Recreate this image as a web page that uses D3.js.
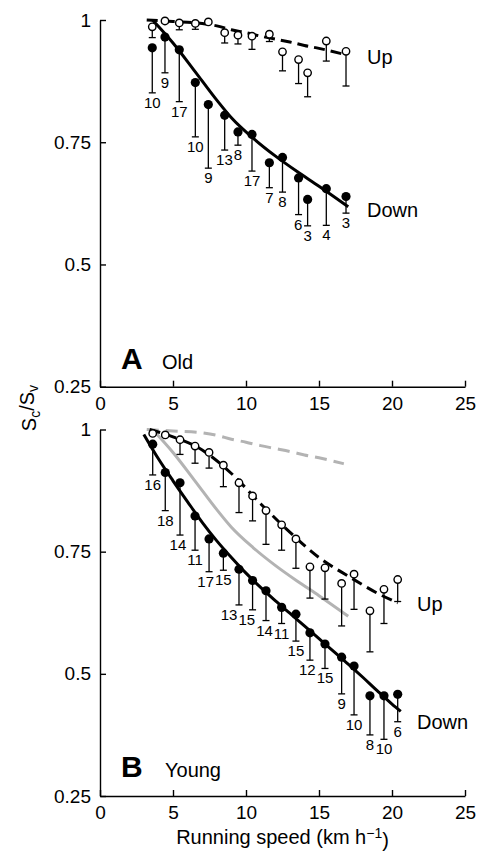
<!DOCTYPE html>
<html>
<head>
<meta charset="utf-8">
<script src="https://cdn.jsdelivr.net/npm/d3@7"></script>
<style>
body { margin: 0; background: #fff; }
svg { display: block; font-family: "Liberation Sans", Arial, Helvetica, sans-serif; }
</style>
</head>
<body>
<div id="chart"></div>
<script>
// axis ticks
var xTicks = [0, 5, 10, 15, 20, 25]
var yTicks = [0.25, 0.5, 0.75, 1]
var yTickLabels = ["0.25", "0.5", "0.75", "1"]

// panel A, old
var oldSpeed = [3.58, 4.45, 5.43, 6.53, 7.42, 8.54, 9.45, 10.41, 11.6, 12.5, 13.6, 14.22, 15.5, 16.85]
var oldUp = [0.986, 0.998, 0.994, 0.993, 0.996, 0.974, 0.969, 0.967, 0.971, 0.935, 0.919, 0.892, 0.957, 0.936]
var oldUpSd = [0.022, 0.004, 0.014, 0.012, 0.003, 0.021, 0.018, 0.027, 0.015, 0.039, 0.049, 0.049, 0.041, 0.071]
var oldDown = [0.943, 0.965, 0.939, 0.872, 0.827, 0.805, 0.771, 0.766, 0.708, 0.719, 0.677, 0.633, 0.655, 0.639]
var oldDownSd = [0.092, 0.073, 0.106, 0.111, 0.130, 0.071, 0.027, 0.075, 0.051, 0.071, 0.075, 0.054, 0.075, 0.034]
var oldDownN = [10, 9, 17, 10, 9, 13, 8, 17, 7, 8, 6, 3, 4, 3]
// fitted curves, old
var oldUpFitSpeed = [3.2, 5, 7, 8, 9, 10, 11, 12, 13, 14, 15, 16.7]
var oldUpFit = [1.0, 0.997, 0.993, 0.988, 0.98, 0.974, 0.967, 0.961, 0.955, 0.948, 0.942, 0.93]
var oldDownFitSpeed = [3.6, 5, 6.5, 8, 9, 10.5, 12, 13.5, 15, 17]
var oldDownFit = [1.0, 0.953, 0.895, 0.836, 0.80, 0.758, 0.722, 0.69, 0.66, 0.618]

// panel B, young
var youngSpeed = [3.61, 4.47, 5.48, 6.51, 7.47, 8.45, 9.52, 10.45, 11.37, 12.44, 13.42, 14.38, 15.41, 16.55, 17.4, 18.49, 19.45, 20.39]
var youngUp = [0.992, 0.989, 0.979, 0.966, 0.953, 0.927, 0.891, 0.864, 0.834, 0.805, 0.776, 0.719, 0.717, 0.685, 0.704, 0.629, 0.673, 0.693]
var youngUpSd = [0, 0, 0.030, 0.035, 0.032, 0.044, 0.061, 0.051, 0.069, 0.052, 0.060, 0.064, 0.064, 0.087, 0.072, 0.084, 0.070, 0.045]
var youngDown = [0.970, 0.912, 0.891, 0.823, 0.776, 0.747, 0.714, 0.691, 0.670, 0.636, 0.622, 0.584, 0.561, 0.534, 0.516, 0.455, 0.455, 0.458]
var youngDownSd = [0.063, 0.078, 0.107, 0.070, 0.067, 0.035, 0.073, 0.060, 0.061, 0.033, 0.055, 0.056, 0.050, 0.075, 0.100, 0.080, 0.089, 0.056]
var youngDownN = [16, 18, 14, 11, 17, 15, 13, 15, 14, 11, 15, 12, 15, 9, 10, 8, 10, 6]
// fitted curves, young
var youngUpFitSpeed = [3.4, 5, 7, 9, 11, 13, 15, 17, 19, 20.4]
var youngUpFit = [1.0, 0.985, 0.958, 0.91, 0.848, 0.79, 0.738, 0.70, 0.665, 0.645]
var youngDownFitSpeed = [3.0, 4, 5, 6, 7, 8, 9, 10, 11, 12, 13, 14, 15, 16, 17, 18, 19, 20, 20.6]
var youngDownFit = [0.99, 0.94, 0.895, 0.852, 0.81, 0.772, 0.738, 0.706, 0.677, 0.65, 0.624, 0.598, 0.572, 0.546, 0.52, 0.493, 0.465, 0.438, 0.423]

var width = 481,
    height = 854

var x = d3.scaleLinear().domain([0, 25]).range([100, 465])
var yA = d3.scaleLinear().domain([0.25, 1]).range([386.7, 20])
var yB = d3.scaleLinear().domain([0.25, 1]).range([796, 429.5])

var svg = d3.select("#chart")
            .append("svg")
            .attr("width", width)
            .attr("height", height)

function drawAxes(y) {
    var gx = svg.append("g")
        .attr("transform", "translate(0," + y.range()[0] + ")")
        .call(d3.axisBottom(x).tickValues(xTicks).tickSizeInner(-6).tickSizeOuter(0).tickPadding(10))
    var gy = svg.append("g")
        .attr("transform", "translate(" + x(0) + ",0)")
        .call(d3.axisLeft(y).tickValues(yTicks).tickFormat(function(d, i) { return yTickLabels[i] })
              .tickSizeInner(-6).tickSizeOuter(0).tickPadding(9))
    ;[gx, gy].forEach(function(g) {
        g.attr("font-size", 19).attr("font-family", null)
        g.selectAll("text").attr("fill", "#000")
        g.select(".domain").attr("stroke-width", 1.4)
        g.selectAll(".tick line").attr("stroke-width", 1.4)
    })
}

function fitLine(y, xs, ys, color, dash) {
    var line = d3.line()
                 .x(function(d) { return x(d[0]) })
                 .y(function(d) { return y(d[1]) })
                 .curve(d3.curveMonotoneX)
    svg.append("path")
       .datum(d3.zip(xs, ys))
       .attr("d", line)
       .attr("fill", "none")
       .attr("stroke", color)
       .attr("stroke-width", 3)
       .attr("stroke-dasharray", dash)
}

function bars(y, speed, mean, sd) {
    var data = d3.zip(speed, mean, sd).filter(function(d) { return d[2] > 0 })
    var g = svg.append("g").attr("stroke", "#000").attr("stroke-width", 1.3)
    g.selectAll("line.bar").data(data).enter().append("line")
     .attr("x1", function(d) { return x(d[0]) })
     .attr("x2", function(d) { return x(d[0]) })
     .attr("y1", function(d) { return y(d[1]) })
     .attr("y2", function(d) { return y(d[1] - d[2]) })
    g.selectAll("line.cap").data(data).enter().append("line")
     .attr("x1", function(d) { return x(d[0]) - 3.5 })
     .attr("x2", function(d) { return x(d[0]) + 3.5 })
     .attr("y1", function(d) { return y(d[1] - d[2]) })
     .attr("y2", function(d) { return y(d[1] - d[2]) })
}

function dots(y, speed, mean, open) {
    svg.append("g").selectAll("circle")
       .data(d3.zip(speed, mean))
       .enter().append("circle")
       .attr("cx", function(d) { return x(d[0]) })
       .attr("cy", function(d) { return y(d[1]) })
       .attr("r", open ? 3.7 : 4.6)
       .attr("fill", open ? "#fff" : "#000")
       .attr("stroke", "#000")
       .attr("stroke-width", open ? 1.4 : 0)
}

function counts(y, speed, mean, sd, n) {
    var labels = svg.append("g").selectAll("text")
       .data(d3.zip(speed, mean, sd, n))
       .enter().append("text")
       .attr("x", function(d) { return x(d[0]) })
       .attr("y", function(d) { return y(d[1] - d[2]) + 15 })
       .attr("text-anchor", "middle")
       .style("font-size", "15px")
       .text(function(d) { return d[3] })
    // push a label left when it runs into the next one
    var nodes = labels.nodes()
    for (var i = nodes.length - 2; i >= 0; i--) {
        var a = nodes[i].getBBox(), b = nodes[i + 1].getBBox()
        var over = a.x + a.width + 1 - b.x
        if (over > 0 && a.y < b.y + b.height && b.y < a.y + a.height) {
            nodes[i].setAttribute("x", +nodes[i].getAttribute("x") - over)
        }
    }
}

function label(px, py, txt, size, bold) {
    svg.append("text")
       .attr("x", px)
       .attr("y", py)
       .style("font-size", size + "px")
       .style("font-weight", bold ? "bold" : "normal")
       .text(txt)
}

// panel A
drawAxes(yA)
fitLine(yA, oldUpFitSpeed, oldUpFit, "#000", "11,6")
fitLine(yA, oldDownFitSpeed, oldDownFit, "#000", null)
bars(yA, oldSpeed, oldDown, oldDownSd)
bars(yA, oldSpeed, oldUp, oldUpSd)
dots(yA, oldSpeed, oldDown, false)
dots(yA, oldSpeed, oldUp, true)
counts(yA, oldSpeed, oldDown, oldDownSd, oldDownN)
label(367, 64, "Up", 20)
label(367, 217, "Down", 20)
label(121, 369, "A", 30, true)
label(162, 369, "Old", 20)

// panel B, old curves in grey for comparison
drawAxes(yB)
fitLine(yB, oldUpFitSpeed, oldUpFit, "#b3b3b3", "12,7")
fitLine(yB, oldDownFitSpeed, oldDownFit, "#b3b3b3", null)
fitLine(yB, youngUpFitSpeed, youngUpFit, "#000", "11,6")
fitLine(yB, youngDownFitSpeed, youngDownFit, "#000", null)
bars(yB, youngSpeed, youngDown, youngDownSd)
bars(yB, youngSpeed, youngUp, youngUpSd)
dots(yB, youngSpeed, youngDown, false)
dots(yB, youngSpeed, youngUp, true)
counts(yB, youngSpeed, youngDown, youngDownSd, youngDownN)
label(417, 611, "Up", 20)
label(417, 729, "Down", 20)
label(121, 777, "B", 30, true)
label(165, 777, "Young", 20)

// axis titles
var xt = svg.append("text")
            .attr("x", x(12.5))
            .attr("y", 844)
            .attr("text-anchor", "middle")
            .style("font-size", "20px")
xt.append("tspan").text("Running speed (km h")
xt.append("tspan").attr("dy", "-0.45em").style("font-size", "14px").text("\u22121")
xt.append("tspan").attr("dy", "0.45em").text(")")

var yt = svg.append("text")
            .attr("transform", "translate(36,408) rotate(-90)")
            .attr("text-anchor", "middle")
            .style("font-size", "20px")
yt.append("tspan").text("S")
yt.append("tspan").attr("dy", "0.3em").style("font-size", "14px").text("c")
yt.append("tspan").attr("dy", "-0.3em").text("/S")
yt.append("tspan").attr("dy", "0.3em").style("font-size", "14px").text("v")
</script>
</body>
</html>
